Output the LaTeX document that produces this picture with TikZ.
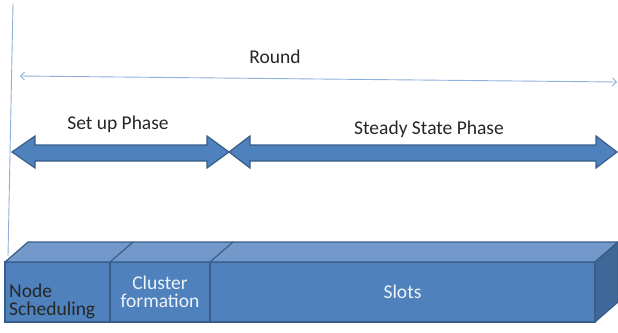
\documentclass[tikz,border=0pt]{standalone}
\usepackage{fontspec}
\setmainfont{Carlito}
\usetikzlibrary{arrows.meta, positioning}
\definecolor{faceblue}{HTML}{4F81BD}
\definecolor{topblue}{HTML}{7299C9}
\definecolor{sideblue}{HTML}{3F6898}
\definecolor{edgeblue}{HTML}{385D8A}
\definecolor{thinblue}{HTML}{8DB0DC}
\definecolor{inktext}{HTML}{262626}
\tikzset{
    timeline/.style={x=1pt, y=-1pt, font=\fontsize{19.5}{18}\selectfont},
    face/.style={draw=edgeblue, fill=faceblue, line width=1.2pt, inner sep=0pt, outer sep=0pt,
                 minimum height=60pt, align=center, text=white!90!faceblue},
    topface/.style={draw=edgeblue, fill=topblue, line width=1.2pt, line join=round},
    sideface/.style={draw=edgeblue, fill=sideblue, line width=1.2pt, line join=round},
    phase/.style={draw=edgeblue, fill=faceblue, line width=1.2pt, line join=miter},
    guide/.style={thinblue, line width=0.9pt},
    caption/.style={text=inktext},
}
\begin{document}
\begin{tikzpicture}[timeline]
    \useasboundingbox (0,0) rectangle (618,332);

    % time axis marks
    \coordinate (start) at (13,4);
    \coordinate (startlow) at (8,256);
    \coordinate (roundL) at (20,76);
    \coordinate (roundR) at (617,82);
    \draw[guide] (start) -- (startlow);
    \draw[guide, {Straight Barb[length=4pt, width=8pt]}-{Straight Barb[length=4pt, width=8pt]}] (roundL) -- (roundR);
    \node[caption] (round) at (275,57) {Round};

    % phases
    \filldraw[phase] (12,152) -- (35,136) -- (35,145) -- (207,145) -- (207,136) -- (229,152)
        -- (207,168) -- (207,161) -- (35,161) -- (35,168) -- cycle;
    \filldraw[phase] (229,152) -- (250,136) -- (250,145) -- (596,145) -- (596,136) -- (617,152)
        -- (596,168) -- (596,161) -- (250,161) -- (250,168) -- cycle;
    \node[caption] (setup)  at (118,124) {Set up Phase};
    \node[caption] (steady) at (429,129) {Steady State Phase};

    % slot bar, front faces left to right
    \node[face, minimum width=105pt, anchor=north west] (sched) at (5,262) {};
    \node[face, minimum width=100pt, right=0pt of sched] (cluster) {Cluster\\formation};
    \node[face, minimum width=385pt, right=0pt of cluster] (slots) {Slots};
    \node[caption, anchor=south west, align=left, inner sep=1pt, xshift=3pt, yshift=2pt]
        (schedtext) at (sched.south west) {Node\\Scheduling};

    % top and side of the bar
    \filldraw[topface] (sched.north west) -- ++(23,-20) -- ++(590,0) -- (slots.north east) -- cycle;
    \draw[topface, fill=none] (cluster.north west) -- ++(23,-20);
    \draw[topface, fill=none] (slots.north west) -- ++(23,-20);
    \filldraw[sideface] (slots.north east) -- ++(23,-20) -- ++(0,60) -- (slots.south east) -- cycle;
\end{tikzpicture}
\end{document}
